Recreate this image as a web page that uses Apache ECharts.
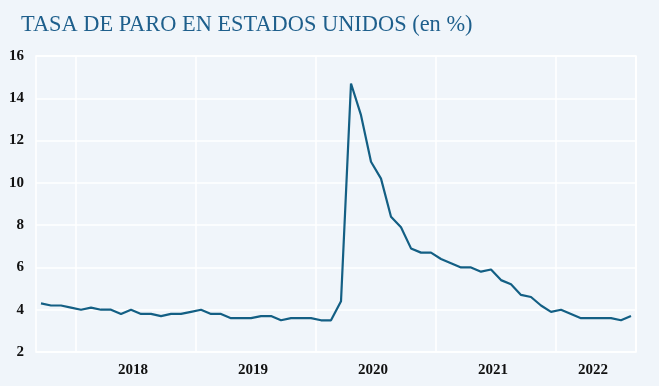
<!DOCTYPE html>
<html>
<head>
<meta charset="utf-8">
<style>
html,body{margin:0;padding:0;background:#f0f5fa;}
#chart{width:659px;height:386px;}
</style>
<script src="https://cdn.jsdelivr.net/npm/echarts@6/dist/echarts.min.js"></script>
</head>
<body>
<div id="chart"></div>
<script>
// Monthly categories, Sep 2017 – Aug 2022
const months = [
 '2017-09','2017-10','2017-11','2017-12',
 '2018-01','2018-02','2018-03','2018-04','2018-05','2018-06','2018-07','2018-08','2018-09','2018-10','2018-11','2018-12',
 '2019-01','2019-02','2019-03','2019-04','2019-05','2019-06','2019-07','2019-08','2019-09','2019-10','2019-11','2019-12',
 '2020-01','2020-02','2020-03','2020-04','2020-05','2020-06','2020-07','2020-08','2020-09','2020-10','2020-11','2020-12',
 '2021-01','2021-02','2021-03','2021-04','2021-05','2021-06','2021-07','2021-08','2021-09','2021-10','2021-11','2021-12',
 '2022-01','2022-02','2022-03','2022-04','2022-05','2022-06','2022-07','2022-08'
];
const unemployment = [
 4.3,4.2,4.2,4.1,
 4.0,4.1,4.0,4.0,3.8,4.0,3.8,3.8,3.7,3.8,3.8,3.9,
 4.0,3.8,3.8,3.6,3.6,3.6,3.7,3.7,3.5,3.6,3.6,3.6,
 3.5,3.5,4.4,14.7,13.2,11.0,10.2,8.4,7.9,6.9,6.7,6.7,
 6.4,6.2,6.0,6.0,5.8,5.9,5.4,5.2,4.7,4.6,4.2,3.9,
 4.0,3.8,3.6,3.6,3.6,3.6,3.5,3.7
];
// Year labels shown at the month nearest the middle of each year's span
const yearLabelMonths = {'2018-07':'2018','2019-07':'2019','2020-07':'2020','2021-07':'2021','2022-05':'2022'};
const yTicks = [2,4,6,8,10,12,14,16];

const chart = echarts.init(document.getElementById('chart'), null, {renderer:'canvas'});
chart.setOption({
  backgroundColor:'#f0f5fa',
  animation:false,
  title:{
    text:'TASA DE PARO EN ESTADOS UNIDOS (en %)',
    left:16, top:9,
    textStyle:{fontFamily:'Liberation Serif', fontWeight:'normal', fontSize:22.4, color:'#1e5f8c'}
  },
  grid:{left:36, right:23, top:56, bottom:34, show:true, borderColor:'#ffffff', borderWidth:1.5, backgroundColor:'transparent'},
  xAxis:{
    type:'category',
    data:months,
    boundaryGap:true,
    axisLine:{show:false},
    axisTick:{show:false},
    splitLine:{show:true, lineStyle:{color:'#ffffff', width:1.6},
      interval:function(i, v){ return v.slice(5) === '01'; }},
    axisLabel:{
      interval:0,
      margin:11,
      formatter:function(v){ return yearLabelMonths[v] || ''; },
      fontFamily:'Liberation Serif', fontWeight:'bold', fontSize:15, color:'#111111',
      padding:[0,16,0,0]
    }
  },
  yAxis:{
    type:'value',
    min:2, max:16, interval:2,
    axisLine:{show:false},
    axisTick:{show:false},
    splitLine:{show:true, lineStyle:{color:'#ffffff', width:1.6}},
    axisLabel:{
      margin:12,
      formatter:function(v){ return yTicks.indexOf(v) >= 0 ? String(v) : ''; },
      fontFamily:'Liberation Serif', fontWeight:'bold', fontSize:15, color:'#111111',
      padding:[3,0,0,0]
    }
  },
  series:[{
    type:'line',
    data:unemployment,
    symbol:'none',
    lineStyle:{color:'#135f84', width:2.2},
    itemStyle:{color:'#135f84'}
  }]
});
</script>
</body>
</html>
